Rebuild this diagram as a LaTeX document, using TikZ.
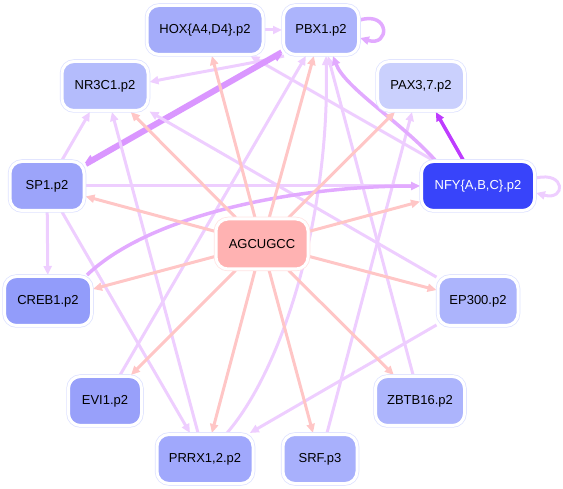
\documentclass[tikz,border=0pt]{standalone}
\usepackage{fontspec}
\setmainfont{Liberation Sans}
\usetikzlibrary{arrows.meta,backgrounds}
\definecolor{cHOX}{RGB}{164,172,250}
\definecolor{cPBX}{RGB}{172,180,252}
\definecolor{cNR}{RGB}{180,188,252}
\definecolor{cPAX}{RGB}{202,208,253}
\definecolor{cSP}{RGB}{156,164,250}
\definecolor{cNFY}{RGB}{56,68,250}
\definecolor{cCREB}{RGB}{146,156,250}
\definecolor{cEP}{RGB}{172,180,252}
\definecolor{cEVI}{RGB}{152,160,250}
\definecolor{cZB}{RGB}{172,180,252}
\definecolor{cPRRX}{RGB}{160,168,252}
\definecolor{cSRF}{RGB}{168,176,252}
\definecolor{cAG}{RGB}{255,178,178}
\definecolor{ePink}{RGB}{255,198,198}
\definecolor{eLight}{RGB}{238,206,255}
\definecolor{eMed}{RGB}{226,170,255}
\definecolor{eThick}{RGB}{218,150,255}
\definecolor{eStrong}{RGB}{190,60,255}
\definecolor{lineB}{RGB}{222,226,255}
\definecolor{lineP}{RGB}{255,226,226}
\tikzset{
  nd/.style={rectangle, rounded corners=12pt, minimum height=49pt, inner sep=0pt,
    font=\fontsize{13}{15}\selectfont, text=black,
    preaction={draw=lineB, line width=4.5pt}, draw=white, line width=3pt},
  agnd/.style={rectangle, rounded corners=12pt, minimum height=50pt, inner sep=0pt,
    font=\fontsize{13}{15}\selectfont, text=black,
    preaction={draw=lineP, line width=4.5pt}, draw=white, line width=3pt},
  tip/.style={-{Triangle[length=9pt,width=8pt]}},
  pk/.style={draw=ePink, line width=3pt, tip},
  lp/.style={draw=eLight, line width=3pt, tip},
  mp/.style={draw=eMed, line width=3.5pt, tip},
  tk/.style={draw=eThick, line width=3.5pt, tip},
  st/.style={draw=eStrong, line width=3.5pt, tip}
}
\begin{document}
\begin{tikzpicture}[x=1pt,y=-1pt]
\useasboundingbox (0,0) rectangle (563,489);
% nodes
\node[nd, fill=cHOX, minimum width=116pt] (hox) at (205,30) {HOX\{A4,D4\}.p2};
\node[nd, fill=cPBX, minimum width=75pt] (pbx) at (321,30) {PBX1.p2};
\node[nd, fill=cNR, minimum width=86pt] (nr) at (105,86) {NR3C1.p2};
\node[nd, fill=cPAX, minimum width=87pt] (pax) at (421,86) {PAX3,7.p2};
\node[nd, fill=cSP, minimum width=74pt] (sp) at (47,186) {SP1.p2};
\node[nd, fill=cNFY, minimum width=113pt, text=white] (nfy) at (478,186) {NFY\{A,B,C\}.p2};
\node[agnd, fill=cAG, minimum width=92pt] (ag) at (262,244) {AGCUGCC};
\node[nd, fill=cCREB, minimum width=87pt] (creb) at (48,301) {CREB1.p2};
\node[nd, fill=cEP, minimum width=80pt] (ep) at (478,301) {EP300.p2};
\node[nd, fill=cEVI, minimum width=73pt] (evi) at (105,401) {EVI1.p2};
\node[nd, fill=cZB, minimum width=89pt] (zb) at (420,401) {ZBTB16.p2};
\node[nd, fill=cPRRX, minimum width=96pt] (prrx) at (205,459) {PRRX1,2.p2};
\node[nd, fill=cSRF, minimum width=74pt] (srf) at (320,459) {SRF.p3};
\begin{scope}[on background layer]
% purple edges
\draw[lp] (hox) -- (pbx);
\draw[lp] (nfy) -- (hox);
\draw[lp] ([xshift=2pt]pbx.south west) .. controls +(-35,8) and +(50,-10) .. ([yshift=4pt]nr.east);
\draw[tk, transform canvas={shift={(0.8,1.0)}}] (sp) -- (pbx);
\draw[tk, transform canvas={shift={(-0.8,-1.0)}}] (pbx) -- (sp);
\draw[lp] (sp) -- (nr);
\draw[lp] (prrx) -- (nr);
\draw[lp] (ep) -- (nr);
\draw[lp] (sp) -- (nfy);
\draw[lp] (sp) -- (creb);
\draw[lp] (sp) -- (prrx);
\draw[lp] (evi) -- (pbx);
\draw[lp] (zb) -- (pbx);
\draw[lp] (ep) -- (prrx);
\draw[lp] ([xshift=7pt]srf.north) -- ([xshift=-9pt]pax.south);
\draw[lp] ([xshift=22pt]prrx.north) .. controls +(60,-70) and +(4,150) .. ([xshift=5pt]pbx.south);
\draw[mp] ([xshift=-6pt]creb.north east) .. controls +(65,-62) and +(-120,0) .. (nfy.west);
\draw[mp] ([xshift=15pt]nfy.north west) .. controls +(-34,-38) and +(12,32) .. ([xshift=12pt]pbx.south);
\draw[mp] ([yshift=10pt]pbx.east) .. controls +(30,-9) and +(30,9) .. ([yshift=-8pt]pbx.east);
\draw[lp] ([yshift=8pt]nfy.east) .. controls +(30,-7) and +(30,8) .. ([yshift=-7pt]nfy.east);
\draw[st] (nfy) -- (pax);
% pink edges
\draw[pk] (ag) -- (hox);
\draw[pk] (ag) -- (pbx);
\draw[pk] (ag) -- (nr);
\draw[pk] (ag) -- (pax);
\draw[pk] (ag) -- (sp);
\draw[pk] (ag) -- (nfy);
\draw[pk] (ag) -- (creb);
\draw[pk] (ag) -- (ep);
\draw[pk] (ag) -- (evi);
\draw[pk] (ag) -- (zb);
\draw[pk] (ag) -- (prrx);
\draw[pk] (ag) -- (srf);
\end{scope}
\end{tikzpicture}
\end{document}
